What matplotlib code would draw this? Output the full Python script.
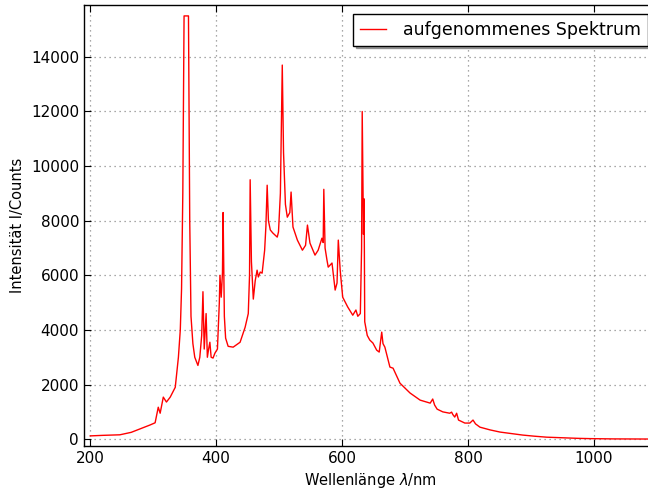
import matplotlib
matplotlib.use('Agg')
import matplotlib.pyplot as plt
import numpy as np

# Spektrum, Werte
wellenlaenge = [200, 220, 247, 265, 284, 295, 303, 308, 311, 316, 321, 327, 335, 340,
                343, 345, 347, 348, 349, 356, 357, 358, 360, 363, 366, 371, 374, 377,
                379, 381, 384, 386, 388, 390, 392, 395, 398, 402, 405, 406, 408, 410,
                411, 413, 415, 419, 427, 438, 446, 451, 453, 454, 456, 459, 462, 465,
                467, 470, 473, 477, 479, 481, 483, 486, 490, 497, 499, 502, 504, 505,
                507, 510, 513, 517, 519, 522, 529, 537, 542, 545, 549, 557, 562, 568,
                570, 571, 573, 576, 578, 584, 589, 592, 594, 597, 601, 609, 617, 622,
                625, 629, 631, 632, 634, 635, 636, 640, 644, 649, 655, 659, 663, 665,
                668, 676, 681, 692, 708, 724, 740, 744, 747, 751, 760, 771, 774, 776,
                779, 782, 785, 795, 803, 808, 812, 819, 835, 851, 870, 887, 905, 925,
                950, 975, 994, 1030, 1073, 1100]
intensitaet = [120, 140, 160, 250, 420, 520, 600, 1170, 950, 1540, 1360, 1540, 1900, 3000,
               4000, 5500, 9000, 12500, 15500, 15500, 12000, 8000, 4500, 3500, 3000, 2700, 3000, 3800,
               5400, 3300, 4600, 3000, 3300, 3550, 3000, 2970, 3150, 3300, 5000, 6000, 5200, 6100,
               8300, 4500, 3700, 3400, 3370, 3550, 4100, 4600, 6000, 9500, 6500, 5130, 5800, 6190,
               5940, 6120, 6080, 6920, 7800, 9300, 8000, 7660, 7550, 7400, 7590, 9000, 12000, 13700,
               10500, 8600, 8130, 8300, 9050, 7770, 7290, 6920, 7100, 7840, 7180, 6740, 6920, 7360,
               7200, 9150, 7000, 6560, 6300, 6450, 5460, 5720, 7290, 6190, 5200, 4840, 4540, 4730,
               4500, 4600, 7000, 12000, 7500, 8800, 4300, 3800, 3630, 3520, 3260, 3190, 3920, 3500,
               3370, 2640, 2600, 2050, 1690, 1430, 1320, 1470, 1250, 1100, 1000, 950, 990, 900,
               810, 950, 700, 590, 590, 700, 560, 440, 340, 260, 200, 150, 110, 73,
               50, 30, 20, 10, 5, 5]

fig = plt.figure(figsize=(6.48, 4.90), dpi=100)
ax = fig.add_axes([0.1296, 0.0898, 0.884, 0.90])

ax.plot(wellenlaenge, intensitaet, color='r', linewidth=1.0,
        label='aufgenommenes Spektrum')

ax.set_xlim(190, 1100)
ax.set_ylim(-250, 15900)
ax.set_xticks([200, 400, 600, 800, 1000])
ax.set_yticks(np.arange(0, 14001, 2000))
ax.set_xlabel(r'Wellenlänge $\lambda$/nm', fontsize=10.5)
ax.set_ylabel('Intensität I/Counts', fontsize=10.5)
ax.tick_params(direction='in', top=True, right=True, labelsize=11, length=5)
ax.grid(True, color='0.55', linestyle=(0, (1, 3)), linewidth=0.9)
for s in ax.spines.values():
    s.set_linewidth(1.0)

leg = ax.legend(loc='upper right', shadow=True, fancybox=False, fontsize=12.5,
                handlelength=1.5, handletextpad=1.0, borderpad=0.4)
leg.get_frame().set_edgecolor('k')
leg.get_frame().set_linewidth(1.0)

fig.savefig('out.png', dpi=100)
